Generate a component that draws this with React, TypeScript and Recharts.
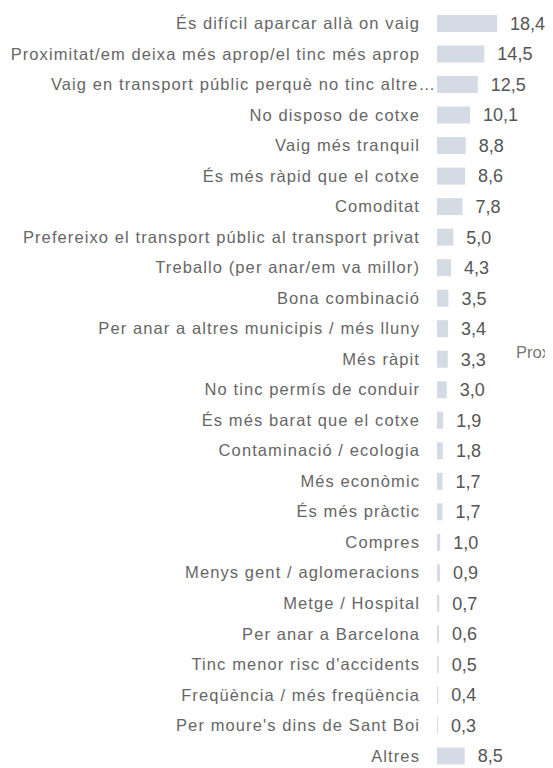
import { BarChart, Bar, XAxis, YAxis, LabelList } from "recharts";

const categories = [
  "És difícil aparcar allà on vaig",
  "Proximitat/em deixa més aprop/el tinc més aprop",
  "Vaig en transport públic perquè no tinc altre…",
  "No disposo de cotxe",
  "Vaig més tranquil",
  "És més ràpid que el cotxe",
  "Comoditat",
  "Prefereixo el transport públic al transport privat",
  "Treballo (per anar/em va millor)",
  "Bona combinació",
  "Per anar a altres municipis / més lluny",
  "Més ràpit",
  "No tinc permís de conduir",
  "És més barat que el cotxe",
  "Contaminació / ecologia",
  "Més econòmic",
  "És més pràctic",
  "Compres",
  "Menys gent / aglomeracions",
  "Metge / Hospital",
  "Per anar a Barcelona",
  "Tinc menor risc d'accidents",
  "Freqüència / més freqüència",
  "Per moure's dins de Sant Boi",
  "Altres",
];

const values = [
  18.4, 14.5, 12.5, 10.1, 8.8, 8.6, 7.8, 5.0, 4.3, 3.5, 3.4, 3.3, 3.0, 1.9, 1.8,
  1.7, 1.7, 1.0, 0.9, 0.7, 0.6, 0.5, 0.4, 0.3, 8.5,
];

const strayLabel = "Proximitat";

const FONT = "'Liberation Sans', Arial, Helvetica, sans-serif";

const data = categories.map((name, i) => ({ name, value: values[i] }));

const fmt = (v: number) => v.toFixed(1).replace(".", ",");

// truncated labels run on into the bar a little, like in the original
function CatTick(props: any) {
  const { x, y, payload } = props;
  const label: string = payload.value;
  const dx = label.endsWith("…") ? 16 : 0;
  return (
    <text
      x={x + dx}
      y={y}
      dy="0.355em"
      textAnchor="end"
      fill="#666"
      fontSize={16.5}
      fontFamily={FONT}
      letterSpacing={1.1}
    >
      {label}
    </text>
  );
}

export default function App() {
  return (
    <div style={{ position: "relative", width: 545, height: 763, overflow: "hidden", fontFamily: FONT }}>
      <BarChart
        width={545}
        height={763}
        data={data}
        layout="vertical"
        margin={{ top: 0, right: 18, bottom: 0, left: 0 }}
      >
        <XAxis type="number" domain={[0, 30]} hide />
        <YAxis
          type="category"
          dataKey="name"
          width={429}
          axisLine={false}
          tickLine={false}
          tickSize={0}
          tickMargin={17}
          interval={0}
          tick={<CatTick />}
        />
        <Bar dataKey="value" fill="#d5dbe5" barSize={17} isAnimationActive={false}>
          <LabelList
            dataKey="value"
            position="right"
            offset={13}
            formatter={(v: any) => fmt(Number(v))}
            style={{ fill: "#555", fontSize: 18, fontFamily: FONT }}
          />
        </Bar>
      </BarChart>
      <span
        style={{
          position: "absolute",
          left: 508,
          top: 335,
          fontSize: 16.5,
          color: "#777",
          whiteSpace: "nowrap",
        }}
      >
        {strayLabel}
      </span>
    </div>
  );
}
